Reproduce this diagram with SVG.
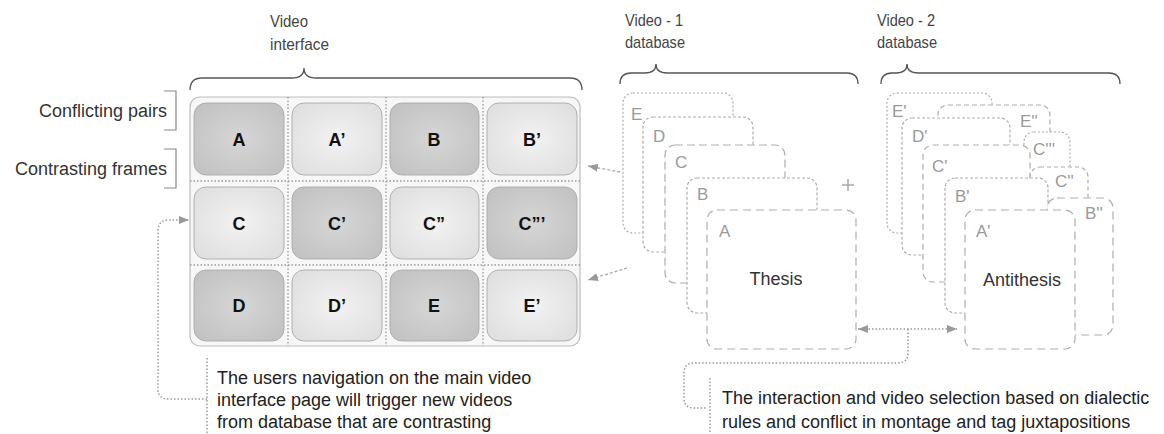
<svg xmlns="http://www.w3.org/2000/svg" width="1164" height="434" viewBox="0 0 1164 434">
<style>
  text { font-family: "Liberation Sans", Arial, sans-serif; }
  .hdr { font-size: 17px; fill: #444; }
  .side { font-size: 18px; fill: #333; text-anchor: end; }
  .brace { fill: none; stroke: #555; stroke-width: 1.3; }
  .tick { fill: none; stroke: #888; stroke-width: 1.2; }
  .outer { fill: #f7f7f7; stroke: #bdbdbd; stroke-width: 1.2; }
  .div { stroke: #9a9a9a; stroke-width: 1.3; stroke-dasharray: 1.5 2; }
  .cell { stroke: #a9a9a9; stroke-width: 0.9; }
  .dark { fill: url(#gDark); }
  .light { fill: url(#gLight); }
  .clab { font-size: 18px; font-weight: bold; fill: #111; text-anchor: middle; }
  .card { fill: #fff; stroke: #adadad; stroke-width: 1.2; }
  .slab { font-size: 17px; fill: #9a9a9a; }
  .big { font-size: 18px; fill: #333; text-anchor: middle; }
  .note { font-size: 18px; fill: #222; }
  .conn { fill: none; stroke: #999; stroke-width: 1.5; stroke-dasharray: 1.5 2; }
  .dash { fill: none; stroke: #aaa; stroke-width: 1.3; stroke-dasharray: 3 2; }
</style>
<defs>
  <radialGradient id="gDark" cx="0.5" cy="0.5" r="0.6">
    <stop offset="0" stop-color="#d6d6d6"/>
    <stop offset="1" stop-color="#c3c3c3"/>
  </radialGradient>
  <radialGradient id="gLight" cx="0.5" cy="0.5" r="0.6">
    <stop offset="0" stop-color="#f2f2f2"/>
    <stop offset="1" stop-color="#e0e0e0"/>
  </radialGradient>
  <marker id="ah" viewBox="0 0 10 8" refX="10" refY="4" markerWidth="10" markerHeight="8" markerUnits="userSpaceOnUse" orient="auto-start-reverse">
    <path d="M0,0 L10,4 L0,8 z" fill="#999"/>
  </marker>
</defs>

<g id="headers">
  <text class="hdr" x="270" y="27" textLength="38" lengthAdjust="spacingAndGlyphs">Video</text>
  <text class="hdr" x="270" y="50" textLength="59" lengthAdjust="spacingAndGlyphs">interface</text>
  <path class="brace" d="M190,90 Q190,78 202,78 H292 Q304,78 304,68 Q304,78 316,78 H570 Q582,78 582,90"/>
  <text class="hdr" x="625" y="26" textLength="58" lengthAdjust="spacingAndGlyphs">Video - 1</text>
  <text class="hdr" x="625" y="48" textLength="60" lengthAdjust="spacingAndGlyphs">database</text>
  <path class="brace" d="M620,84 Q620,73 631,73 H645 Q656,73 656,64 Q656,73 667,73 H847 Q858,73 858,84"/>
  <text class="hdr" x="877" y="26" textLength="58" lengthAdjust="spacingAndGlyphs">Video - 2</text>
  <text class="hdr" x="877" y="48" textLength="60" lengthAdjust="spacingAndGlyphs">database</text>
  <path class="brace" d="M881,84 Q881,73 892,73 H896 Q907,73 907,64 Q907,73 918,73 H1109 Q1120,73 1120,84"/>
</g>

<g id="side-labels">
  <text class="side" x="167" y="117">Conflicting pairs</text>
  <path class="tick" d="M164,91 H176 V130 H164"/>
  <text class="side" x="167" y="175">Contrasting frames</text>
  <path class="tick" d="M164,149 H176 V188 H164"/>
</g>

<g id="video-interface">
  <rect class="outer" x="190" y="97" width="390" height="249" rx="10"/>
  <line class="div" x1="288" y1="97" x2="288" y2="346"/>
  <line class="div" x1="386" y1="97" x2="386" y2="346"/>
  <line class="div" x1="483" y1="97" x2="483" y2="346"/>
  <line class="div" x1="190" y1="181" x2="580" y2="181"/>
  <line class="div" x1="190" y1="265" x2="580" y2="265"/>
</g>

<g id="cell-A"><rect class="cell dark" x="194" y="103" width="90" height="72" rx="12"/><text class="clab" x="239" y="146">A</text></g>
<g id="cell-A2"><rect class="cell light" x="292" y="103" width="90" height="72" rx="12"/><text class="clab" x="337" y="146">A’</text></g>
<g id="cell-B"><rect class="cell dark" x="390" y="103" width="89" height="72" rx="12"/><text class="clab" x="434" y="146">B</text></g>
<g id="cell-B2"><rect class="cell light" x="487" y="103" width="90" height="72" rx="12"/><text class="clab" x="532" y="146">B’</text></g>

<g id="cell-C"><rect class="cell light" x="194" y="187" width="90" height="72" rx="12"/><text class="clab" x="239" y="230">C</text></g>
<g id="cell-C2"><rect class="cell dark" x="292" y="187" width="90" height="72" rx="12"/><text class="clab" x="337" y="230">C’</text></g>
<g id="cell-C3"><rect class="cell light" x="390" y="187" width="89" height="72" rx="12"/><text class="clab" x="434" y="230">C”</text></g>
<g id="cell-C4"><rect class="cell dark" x="487" y="187" width="90" height="72" rx="12"/><text class="clab" x="532" y="230">C”’</text></g>

<g id="cell-D"><rect class="cell dark" x="194" y="270" width="90" height="71" rx="12"/><text class="clab" x="239" y="312">D</text></g>
<g id="cell-D2"><rect class="cell light" x="292" y="270" width="90" height="71" rx="12"/><text class="clab" x="337" y="312">D’</text></g>
<g id="cell-E"><rect class="cell dark" x="390" y="270" width="89" height="71" rx="12"/><text class="clab" x="434" y="312">E</text></g>
<g id="cell-E2"><rect class="cell light" x="487" y="270" width="90" height="71" rx="12"/><text class="clab" x="532" y="312">E’</text></g>

<g id="db1">
  <g id="db1-E"><rect class="card" x="623" y="93" width="110" height="140" rx="10" stroke-dasharray="2 2"/><text class="slab" x="631" y="120">E</text></g>
  <g id="db1-D"><rect class="card" x="643" y="117" width="110" height="135" rx="10" stroke-dasharray="3 2"/><text class="slab" x="653" y="142">D</text></g>
  <g id="db1-C"><rect class="card" x="665" y="145" width="120" height="138" rx="10" stroke-dasharray="8 4"/><text class="slab" x="675" y="168">C</text></g>
  <g id="db1-B"><rect class="card" x="687" y="178" width="130" height="135" rx="10" stroke-dasharray="3 2"/><text class="slab" x="697" y="200">B</text></g>
  <g id="db1-A"><rect class="card" x="707" y="210" width="149" height="139" rx="10" stroke-dasharray="8 5"/><text class="slab" x="719" y="237">A</text><text class="big" x="776" y="285">Thesis</text></g>
  <path d="M842,185 H854 M848,179 V191" stroke="#aaa" stroke-width="1.5" fill="none"/>
</g>

<g id="db2">
  <g id="db2-E1"><rect class="card" x="887" y="93" width="105" height="140" rx="10" stroke-dasharray="2 2"/><text class="slab" x="892" y="117">E'</text></g>
  <g id="db2-E2"><rect class="card" x="938" y="105" width="112" height="125" rx="10" stroke-dasharray="5 3"/><text class="slab" x="1020" y="127">E''</text></g>
  <g id="db2-D1"><rect class="card" x="902" y="118" width="108" height="137" rx="10" stroke-dasharray="3 2"/><text class="slab" x="912" y="142">D'</text></g>
  <g id="db2-C4"><rect class="card" x="1024" y="132" width="46" height="118" rx="10" stroke-dasharray="2 2"/><text class="slab" x="1033" y="155">C'''</text></g>
  <g id="db2-C1"><rect class="card" x="923" y="145" width="107" height="137" rx="10" stroke-dasharray="6 4"/><text class="slab" x="932" y="172">C'</text></g>
  <g id="db2-C3"><rect class="card" x="1030" y="167" width="58" height="113" rx="10" stroke-dasharray="4 3"/><text class="slab" x="1055" y="187">C''</text></g>
  <g id="db2-B1"><rect class="card" x="945" y="178" width="103" height="135" rx="10" stroke-dasharray="3 2"/><text class="slab" x="955" y="202">B'</text></g>
  <g id="db2-B2"><rect class="card" x="1047" y="198" width="66" height="137" rx="10" stroke-dasharray="8 5"/><text class="slab" x="1085" y="219">B''</text></g>
  <g id="db2-A1"><rect class="card" x="965" y="210" width="110" height="139" rx="10" stroke-dasharray="8 5"/><text class="slab" x="976" y="237">A'</text><text class="big" x="1022" y="286">Antithesis</text></g>
</g>

<g id="note-left">
  <line class="conn" x1="207" y1="358" x2="207" y2="434"/>
  <text class="note" x="217" y="384">The users navigation on the main video</text>
  <text class="note" x="217" y="406">interface page will trigger new videos</text>
  <text class="note" x="217" y="428">from database that are contrasting</text>
</g>

<g id="note-right">
  <line class="conn" x1="710" y1="378" x2="710" y2="434"/>
  <text class="note" x="722" y="404">The interaction and video selection based on dialectic</text>
  <text class="note" x="722" y="428">rules and conflict in montage and tag juxtapositions</text>
</g>

<g id="connectors">
  <path class="conn" d="M207,399 H168 Q158,399 158,389 V231 Q158,220 169,220 H189" marker-end="url(#ah)"/>
  <path class="dash" d="M620,172 L588,166" marker-end="url(#ah)"/>
  <path class="dash" d="M627,268 L588,280" marker-end="url(#ah)"/>
  <path class="conn" d="M858,329 H957" marker-start="url(#ah)" marker-end="url(#ah)"/>
  <path class="conn" d="M908,329 V353 Q908,363 898,363 H694 Q684,363 684,373 V398 Q684,408 694,408 H708"/>
</g>
</svg>
